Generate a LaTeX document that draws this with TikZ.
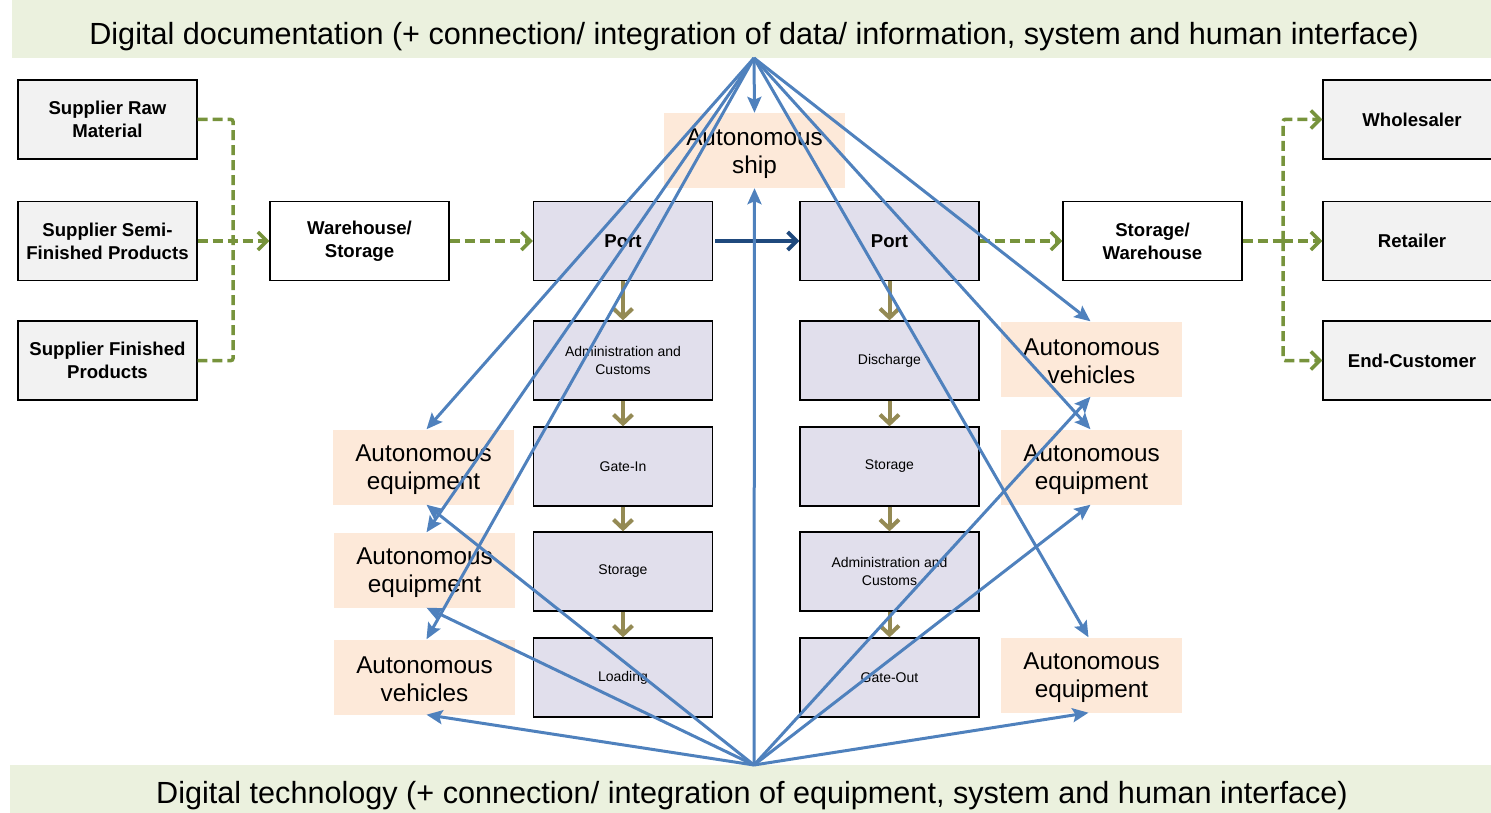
\documentclass[tikz,border=0pt]{standalone}
\usepackage{fontspec}
\setmainfont{Liberation Sans}
\usetikzlibrary{arrows.meta}
\definecolor{bannergreen}{RGB}{235,241,222}
\definecolor{boxgray}{RGB}{242,242,242}
\definecolor{lav}{RGB}{225,223,236}
\definecolor{peach}{RGB}{253,233,217}
\definecolor{lineblue}{RGB}{79,129,189}
\definecolor{dashgreen}{RGB}{119,147,60}
\definecolor{olive}{RGB}{148,138,84}
\definecolor{darkblue}{RGB}{31,73,125}
\tikzset{
  basebox/.style={draw=black, line width=1.3pt, minimum width=179pt, minimum height=79pt, inner sep=0pt, align=center},
  graybox/.style={basebox, fill=boxgray, font=\bfseries\fontsize{18.6}{23}\selectfont},
  whitebox/.style={basebox, fill=white, font=\bfseries\fontsize{18.6}{23}\selectfont},
  portbox/.style={basebox, fill=lav, font=\bfseries\fontsize{18.6}{23}\selectfont},
  boldtext/.style={inner sep=0pt, font=\bfseries\fontsize{18.6}{23}\selectfont},
  stepbox/.style={basebox, fill=lav, font=\fontsize{14}{18}\selectfont},
  autobox/.style={fill=peach, minimum width=181pt, minimum height=75pt, inner sep=0pt},
  autotext/.style={inner sep=0pt, align=center, font=\fontsize{24.3}{28.5}\selectfont},
  bannertext/.style={inner sep=0pt, font=\fontsize{30.6}{34}\selectfont},
  gdash/.style={draw=dashgreen, line width=3.5pt, dash pattern=on 10pt off 5pt, -{Straight Barb[length=9pt,width=18pt,line width=3.5pt]}},
  gline/.style={draw=dashgreen, line width=3.5pt, dash pattern=on 10pt off 5pt},
  olivearrow/.style={draw=olive, line width=4pt, -{Straight Barb[length=9pt,width=19pt]}},
  bluearrow/.style={draw=lineblue, line width=3pt, -{Stealth[length=16pt,width=14pt,inset=3pt]}},
  portarrow/.style={draw=darkblue, line width=3.8pt, -{Straight Barb[length=9pt,width=18pt]}}
}
\begin{document}
\begin{tikzpicture}[x=1pt,y=-1pt]
\clip (0,0) rectangle (1491,813);
% banners
\fill[bannergreen] (12,0) rectangle (1491,58);
\node[bannertext] (topb) at (754,37) {Digital documentation (+ connection/ integration of data/ information, system and human interface)};
\fill[bannergreen] (10,765) rectangle (1491,813);
\node[bannertext] (botb) at (752,796) {Digital technology (+ connection/ integration of equipment, system and human interface)};
\coordinate (ta) at (754,58);
\coordinate (ba) at (754,765);
% supplier boxes
\node[graybox] (sraw) at (107.5,119.5) {Supplier Raw\\Material};
\node[graybox] (ssemi) at (107.5,241) {Supplier Semi-\\Finished Products};
\node[graybox] (sfin) at (107.5,360.5) {Supplier Finished\\Products};
\node[whitebox] (wh) at (359.5,241) {Warehouse/\\Storage};
% left port column
\node[portbox] (portL) at (623,241) {Port};
\node[stepbox] (adm) at (623,360.5) {Administration and\\Customs};
\node[stepbox] (gin) at (623,466.5) {Gate-In};
\node[stepbox] (stoL) at (623,571.5) {Storage};
\node[stepbox] (load) at (623,677.5) {Loading};
% right port column
\node[portbox] (portR) at (889.5,241) {Port};
\node[stepbox] (dis) at (889.5,360.5) {Discharge};
\node[stepbox] (stoR) at (889.5,466.5) {Storage};
\node[stepbox] (admR) at (889.5,571.5) {Administration and\\Customs};
\node[stepbox] (gout) at (889.5,677.5) {Gate-Out};
% right side
\node[whitebox] (sw) at (1152.5,241) {Storage/\\Warehouse};
\node[graybox, minimum width=180pt] (whole) at (1413,119.5) {};
\node[boldtext] (wholet) at (1412,119.5) {Wholesaler};
\node[graybox, minimum width=180pt] (ret) at (1413,241) {};
\node[boldtext] (rett) at (1412,241) {Retailer};
\node[graybox, minimum width=180pt] (endc) at (1413,360.5) {};
\node[boldtext] (endct) at (1412,360.5) {End-Customer};
% autonomous boxes
\node[autobox] (ship) at (754.5,150.5) {};
\node[autotext] (shipt) at (754.5,153.5) {Autonomous\\ship};
\node[autobox] (aeL1) at (423.5,467) {};
\node[autotext] (aeL1t) at (423.5,469.5) {Autonomous\\equipment};
\node[autobox] (aeL2) at (424.5,570) {};
\node[autotext] (aeL2t) at (424.5,572.5) {Autonomous\\equipment};
\node[autobox] (avL) at (424.5,677) {};
\node[autotext] (avLt) at (424.5,679.5) {Autonomous\\vehicles};
\node[autobox] (avR) at (1091.5,359) {};
\node[autotext] (avRt) at (1091.5,361.5) {Autonomous\\vehicles};
\node[autobox] (aeR1) at (1091.5,467) {};
\node[autotext] (aeR1t) at (1091.5,469.5) {Autonomous\\equipment};
\node[autobox] (aeR2) at (1091.5,675) {};
\node[autotext] (aeR2t) at (1091.5,677.5) {Autonomous\\equipment};
% green dashed flows
\coordinate (lbx) at (233,241);
\draw[gline, rounded corners=2pt] (sraw.east) -| (lbx) |- (sfin.east);
\draw[gdash] (ssemi.east) -- (wh.west);
\draw[gdash] (wh.east) -- (portL.west);
\draw[gdash] (portR.east) -- (sw.west);
\coordinate (rbx) at (1283,241);
\draw[gline] (sw.east) -- (rbx);
\draw[gdash, rounded corners=2pt] (rbx) |- (whole.west);
\draw[gdash] (rbx) -- (ret.west);
\draw[gdash, rounded corners=2pt] (rbx) |- (endc.west);
% port to port
\draw[portarrow] ([xshift=2pt]portL.east) -- (portR.west);
% olive process arrows
\draw[olivearrow] (portL.south) -- (adm.north);
\draw[olivearrow] (adm.south) -- (gin.north);
\draw[olivearrow] (gin.south) -- (stoL.north);
\draw[olivearrow] (stoL.south) -- (load.north);
\draw[olivearrow] (portR.south) -- (dis.north);
\draw[olivearrow] (dis.south) -- (stoR.north);
\draw[olivearrow] (stoR.south) -- (admR.north);
\draw[olivearrow] (admR.south) -- (gout.north);
% blue arrows from top
\draw[bluearrow] (ta) -- (ship.north);
\draw[bluearrow] (ta) -- ([xshift=3pt]aeL1.north);
\draw[bluearrow] (ta) -- ([xshift=2pt]aeL2.north);
\draw[bluearrow] (ta) -- ([xshift=2pt]avL.north);
\draw[bluearrow] (ta) -- ([xshift=-1pt]avR.north);
\draw[bluearrow] (ta) -- ([xshift=-1pt]aeR1.north);
\draw[bluearrow] (ta) -- ([xshift=-3pt]aeR2.north);
% blue arrows from bottom
\draw[bluearrow] (ba) -- (ship.south);
\draw[bluearrow] (ba) -- ([xshift=3pt]aeL1.south);
\draw[bluearrow] (ba) -- ([xshift=2pt]aeL2.south);
\draw[bluearrow] (ba) -- ([xshift=2pt]avL.south);
\draw[bluearrow] (ba) -- ([xshift=-1pt]avR.south);
\draw[bluearrow] (ba) -- ([xshift=-1pt]aeR1.south);
\draw[bluearrow] (ba) -- ([xshift=-3pt]aeR2.south);
\end{tikzpicture}
\end{document}
